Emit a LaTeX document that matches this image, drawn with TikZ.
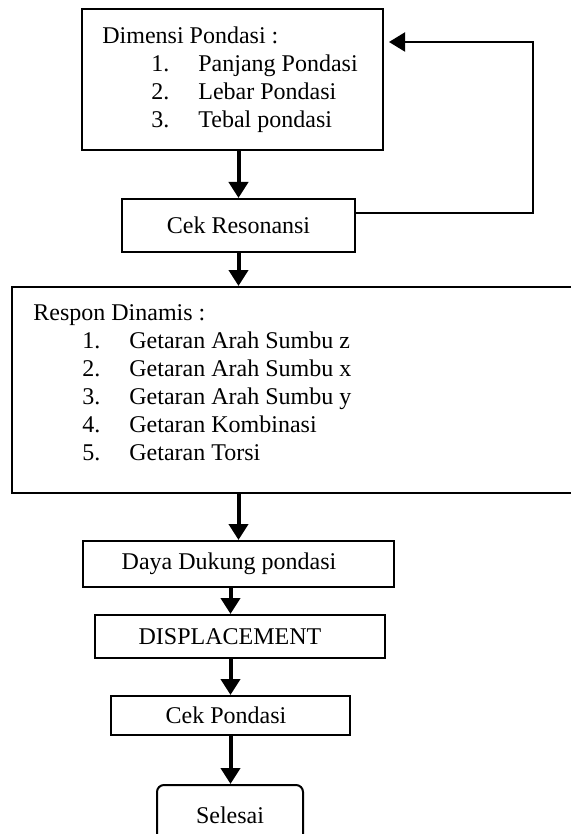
\documentclass[tikz,border=0pt]{standalone}
\usepackage{fontspec}
\setmainfont{Liberation Serif}
\usetikzlibrary{arrows.meta,positioning}

\newcommand{\itm}[2]{\hspace*{24.5pt}\makebox[23.5pt][l]{#1}#2}

\begin{document}
\begin{tikzpicture}[
  x=0.5pt, y=-0.5pt,
  every node/.style={font=\fontsize{12}{14}\selectfont},
  box/.style={draw, line width=1pt, inner sep=0pt},
  txt/.style={align=left, inner sep=0pt, anchor=north west},
  arr/.style={-{Triangle[length=8pt,width=9.5pt]}, line width=2pt},
  back/.style={-{Triangle[length=8pt,width=9.5pt]}, line width=1pt},
]
  \useasboundingbox (0,0) rectangle (570,834);

  \node[box, minimum width=150.5pt, minimum height=70.5pt] (dim) at (232.5,79.5) {};
  \node[txt] (dimtxt) at (102,26.5) {Dimensi Pondasi :\\
    \itm{1.}{Panjang Pondasi}\\
    \itm{2.}{Lebar Pondasi}\\
    \itm{3.}{Tebal pondasi}};
  \node[box, minimum width=116.5pt, minimum height=26.5pt] (cek) at (238.5,225.5) {Cek Resonansi};
  \node[box, minimum width=284pt, minimum height=103pt] (resp) at (296,390) {};
  \node[txt] (resptxt) at (33,304.5) {Respon Dinamis :\\
    \itm{1.}{Getaran Arah Sumbu z}\\
    \itm{2.}{Getaran Arah Sumbu x}\\
    \itm{3.}{Getaran Arah Sumbu y}\\
    \itm{4.}{Getaran Kombinasi}\\
    \itm{5.}{Getaran Torsi}};
  \node[box, minimum width=155.5pt, minimum height=23pt] (daya) at (238.5,564) {Daya Dukung pondasi\hspace*{9.5pt}};
  \node[box, minimum width=145pt, minimum height=21.5pt] (disp) at (240,636.5) {DISPLACEMENT\hspace*{10pt}};
  \node[box, minimum width=119.5pt, minimum height=19.5pt] (cekp) at (230.5,715.5) {Cek Pondasi\hspace*{4.5pt}};
  \node[box, rounded corners=3.5pt, minimum width=73pt, minimum height=30pt] (sel) at (230,815) {Selesai};
  \coordinate (fb) at (533,42);

  \draw[arr] (dim.south -| cek.north) -- (cek.north);
  \draw[arr] (cek.south) -- (cek.south |- resp.north);
  \draw[arr] (resp.south -| daya.north) -- (daya.north);
  \draw[arr] (daya.south -| cekp.north) -- (disp.north -| cekp.north);
  \draw[arr] (disp.south -| cekp.north) -- (cekp.north);
  \draw[arr] (cekp.south) -- (cekp.south |- sel.north);
  \draw[back, shorten >=2.5pt] ([yshift=6.25pt]cek.east) -| (fb) -- (dim.east |- fb);
\end{tikzpicture}
\end{document}
